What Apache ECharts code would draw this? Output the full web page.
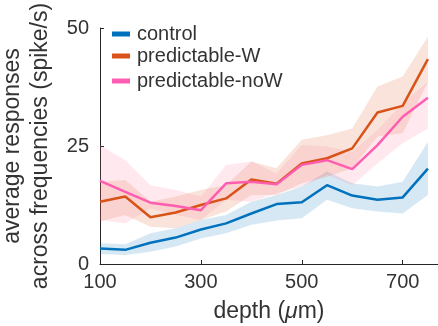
<!DOCTYPE html>
<html>
<head>
    <meta charset="utf-8">
    <title>depth</title>
    <script src="https://cdn.jsdelivr.net/npm/echarts@6/dist/echarts.min.js"></script>
</head>
<body style="margin:0">
<div id="main" style="width: 438px;height:326px;"></div>
<script type="text/javascript">
    // depth of each point (um)
    var depths = [100, 150, 200, 250, 300, 350, 400, 450, 500, 550, 600, 650, 700, 750];
    var xTicks = [100, 300, 500, 700];
    var yTicks = [0, 25, 50];

    // control
    var ctrlMean  = [3.3, 3.0, 4.5, 5.6, 7.3, 8.6, 10.7, 12.7, 13.1, 16.7, 14.5, 13.6, 14.1, 20.2];
    var ctrlUpper = [4.4, 4.2, 6.5, 7.6, 9.3, 10.4, 13.2, 14.6, 16.4, 19.6, 17.1, 16.4, 17.4, 25.9];
    var ctrlLower = [2.1, 1.9, 2.6, 3.7, 5.4, 6.5, 8.3, 9.2, 9.7, 13.6, 11.8, 11.1, 10.7, 14.6];

    // predictable-W
    var wMean  = [13.2, 14.3, 9.9, 10.9, 12.5, 13.9, 17.9, 17.0, 21.3, 22.4, 24.5, 32.1, 33.5, 43.4];
    var wUpper = [17.4, 17.8, 13.2, 14.3, 15.7, 16.7, 21.7, 20.3, 26.3, 27.3, 28.7, 37.6, 39.7, 48.2];
    var wLower = [9.0, 10.4, 7.9, 7.6, 9.3, 11.1, 14.6, 14.6, 17.1, 18.5, 20.3, 27.0, 27.7, 38.6];

    // predictable-noW
    var nwMean  = [17.6, 15.3, 13.0, 12.3, 11.4, 17.1, 17.4, 16.9, 21.0, 22.0, 20.1, 25.2, 31.2, 35.2];
    var nwUpper = [25.2, 22.0, 16.7, 15.7, 14.3, 21.0, 21.7, 19.2, 25.2, 24.9, 23.8, 28.4, 34.0, 38.6];
    var nwLower = [9.3, 8.6, 11.8, 10.4, 9.3, 13.6, 13.2, 15.0, 16.4, 18.9, 16.7, 21.3, 25.6, 28.7];

    var txt = '#333333';
    var font = 'Liberation Sans, Arial, sans-serif';
    var fs = 20;     // ticks, legend
    var nameFs = 23; // axis titles

    function pairs(ys) {
        var out = [];
        for (var i = 0; i < depths.length; i++) out.push([depths[i], ys[i]]);
        return out;
    }
    // shaded band: one polygon, upper edge then lower edge back
    function band(name, up, lo, fill) {
        return {
            name: name + '_band', type: 'custom', silent: true, data: pairs(up),
            renderItem: function (params, api) {
                if (params.dataIndex !== 0) return;
                var pts = [];
                for (var i = 0; i < depths.length; i++) pts.push(api.coord([depths[i], up[i]]));
                for (var j = depths.length - 1; j >= 0; j--) pts.push(api.coord([depths[j], lo[j]]));
                return {type: 'polygon', shape: {points: pts}, style: {fill: fill}};
            }
        };
    }
    function line(name, ys, color) {
        return {
            name: name, type: 'line', data: pairs(ys), color: color,
            symbol: 'none', lineStyle: {width: 2.5, color: color}
        };
    }
    function legend(name, top) {
        return {
            data: [name], left: 112, top: top, padding: 0,
            icon: 'rect', itemWidth: 18, itemHeight: 5,
            textStyle: {fontSize: fs, color: txt, fontFamily: font, padding: [0, 0, 0, 2]}
        };
    }

    var myChart = echarts.init(document.getElementById('main'));
    var series = [
        band('c', ctrlUpper, ctrlLower, 'rgba(0,114,189,0.16)'),
        band('w', wUpper, wLower, 'rgba(217,83,25,0.16)'),
        band('nw', nwUpper, nwLower, 'rgba(255,110,140,0.15)'),
        line('control', ctrlMean, '#0072BD'),
        line('predictable-W', wMean, '#D95319'),
        line('predictable-noW', nwMean, '#FF5DB1')
    ];

    var option = {
        animation: false,
        textStyle: {fontFamily: font},
        grid: {left: 100, right: 0, top: 28, bottom: 62, outerBoundsMode: 'none', containLabel: false},
        legend: [legend('control', 24), legend('predictable-W', 46), legend('predictable-noW', 71)],
        xAxis: {
            type: 'value', min: 100, max: 770,
            name: 'depth ({i|μ}m)', nameLocation: 'middle', nameGap: 36,
            nameTextStyle: {fontSize: nameFs, color: txt, rich: {i: {fontSize: nameFs, color: txt, fontStyle: 'italic'}}},
            axisLine: {lineStyle: {color: '#262626', width: 1}},
            axisTick: {inside: true, length: 4, customValues: xTicks, lineStyle: {color: '#262626'}},
            axisLabel: {customValues: xTicks, fontSize: fs, color: txt, margin: 8},
            splitLine: {show: false}
        },
        yAxis: {
            type: 'value', min: 0, max: 50, interval: 25,
            name: 'average responses\nacross frequencies (spike/s)',
            nameLocation: 'middle', nameRotate: 90, nameGap: 45,
            nameTextStyle: {fontSize: nameFs, color: txt, lineHeight: 28},
            axisLine: {show: true, lineStyle: {color: '#262626', width: 1}},
            axisTick: {show: true, inside: true, length: 4, customValues: yTicks, lineStyle: {color: '#262626'}},
            axisLabel: {customValues: yTicks, fontSize: fs, color: txt, margin: 11},
            splitLine: {show: false}
        },
        series: series
    };
    myChart.setOption(option);
</script>
</body>
</html>
